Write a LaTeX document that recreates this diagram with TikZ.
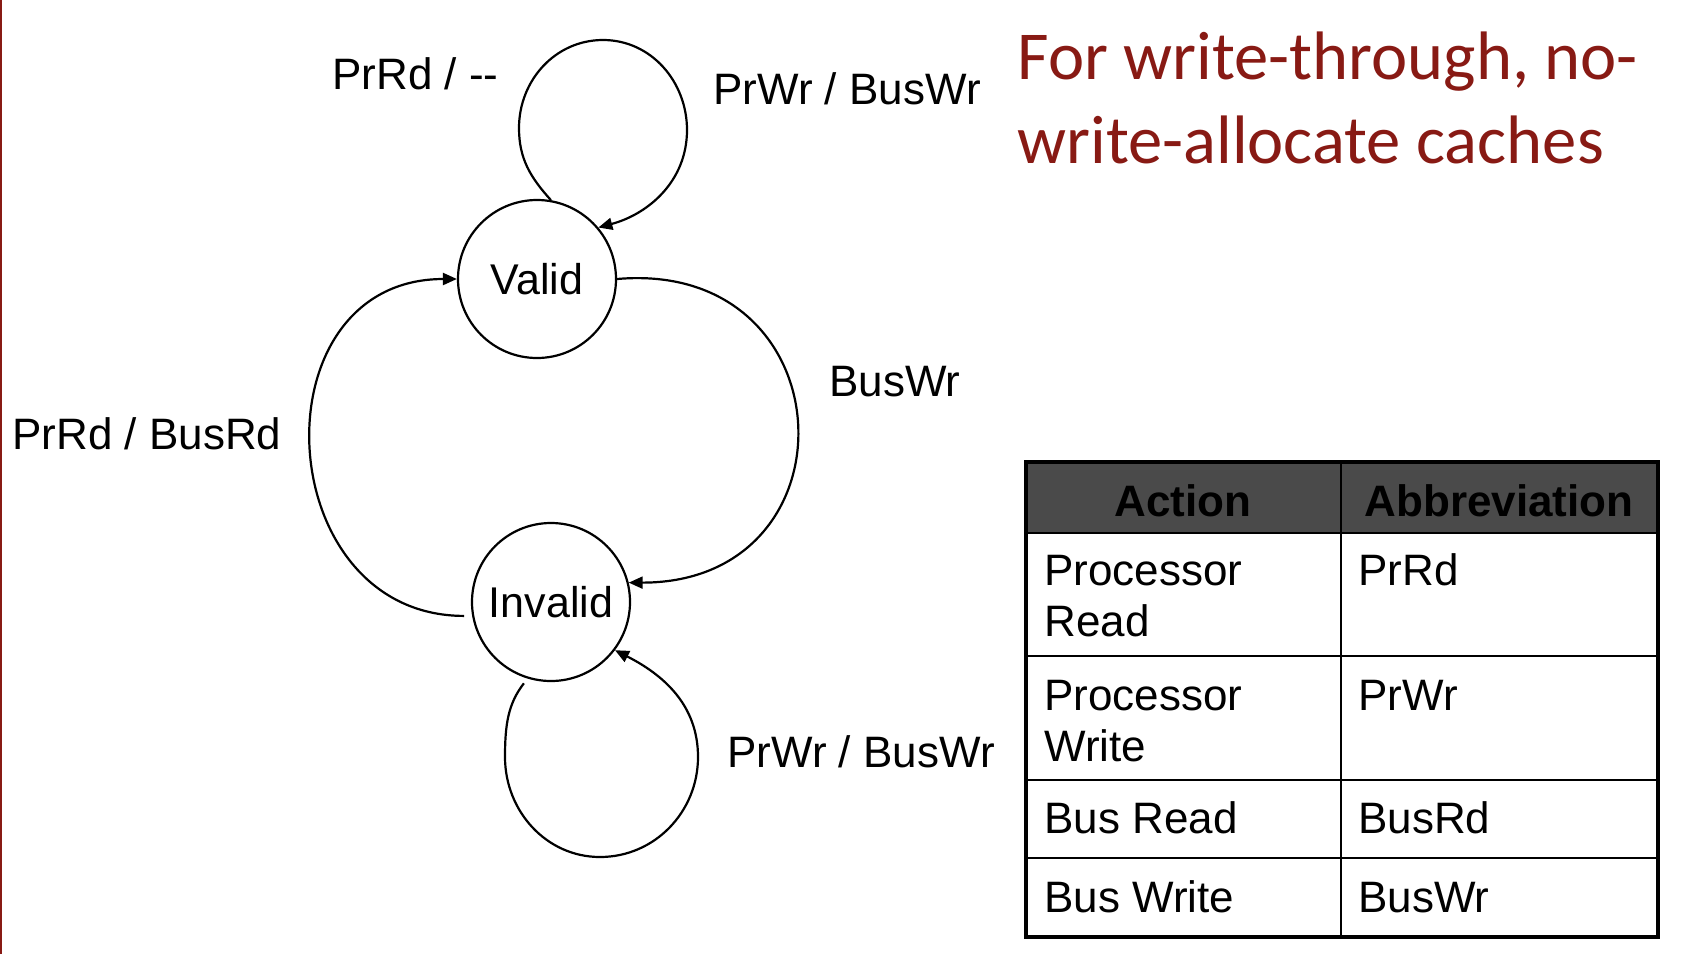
\documentclass[tikz,border=0pt]{standalone}
\usepackage{fontspec}
\setmainfont{Liberation Sans}
\newfontfamily\titlefont{Carlito}
\usetikzlibrary{positioning,arrows.meta}
\definecolor{titlered}{RGB}{136,26,20}
\definecolor{headgray}{RGB}{74,74,74}

\begin{document}
\begin{tikzpicture}[x=0.5pt, y=0.5pt, >={Triangle[length=7pt,width=6pt]}]
    \tikzset{state/.style={draw, shape=circle, line width=1.1pt, minimum size=79pt, inner sep=0pt, font=\fontsize{21.5}{26}\selectfont},
             lbl/.style={anchor=base west, inner sep=0pt, font=\fontsize{22}{26}\selectfont},
             cell/.style={anchor=base west, inner sep=0pt, font=\fontsize{22}{26}\selectfont},
             head/.style={anchor=base, inner sep=0pt, font=\bfseries\fontsize{22}{26}\selectfont},
             titleline/.style={anchor=base west, inner sep=0pt, text=titlered, font=\titlefont\fontsize{34.3}{42}\selectfont}}
    \useasboundingbox (0,0) rectangle (1692,-954);
    \fill[titlered] (0,0) rectangle (2,-954);

    % states
    \node[state] (valid) at (537,-279) {Valid};
    \node[state] (invalid) at (551,-602) {Invalid};

    % transitions
    \draw[->, line width=1.1pt] (valid.80) to[out=132, in=-90] (519,-128) to[out=90, in=180] (603,-40)
        to[out=0, in=90] (687,-130) to[out=-90, in=15] (valid.40);
    \draw[->, line width=1.1pt] (valid.0) to[out=5, in=0, looseness=1.95] (invalid.14);
    \draw[->, line width=1.1pt, shorten <=4pt] (invalid.190) to[out=180, in=180, looseness=1.54] (valid.180);
    \draw[->, line width=1.1pt, shorten <=3pt] (invalid.253) to[out=232, in=90] (505,-757) to[out=-90, in=180] (600,-857)
        to[out=0, in=-90] (698,-757) to[out=90, in=-27] (invalid.-37);

    \node[lbl] (prrdnone) at (332,-89) {PrRd / -{}-};
    \node[lbl] (prwrtop) at (713,-104) {PrWr / BusWr};
    \node[lbl] (buswr) at (829,-396) {BusWr};
    \node[lbl] (prrdbusrd) at (12,-449) {PrRd / BusRd};
    \node[lbl] (prwrbottom) at (727,-767) {PrWr / BusWr};

    % title
    \node[titleline] (title1) at (1017,-79) {For write-through, no-};
    \node[titleline] (title2) at (1017,-163) {write-allocate caches};

    % table
    \fill[headgray] (1026,-462) rectangle (1658,-533);
    \draw[line width=1.2pt] (1341,-462) -- (1341,-937);
    \foreach \ry in {533,656,780,858}
        \draw[line width=1.2pt] (1026,-\ry) -- (1658,-\ry);
    \draw[line width=2.3pt] (1026,-462) rectangle (1658,-937);
    \node[head] (hdaction) at (1183,-516) {Action};
    \node[head] (hdabbr) at (1499,-516) {Abbreviation};
    \foreach \cx/\cy/\ctext [count=\k] in {1044/585/Processor, 1044/636/Read, 1358/585/PrRd,
            1044/710/Processor, 1044/761/Write, 1358/710/PrWr,
            1044/833/Bus Read, 1358/833/BusRd, 1044/912/Bus Write, 1358/912/BusWr}
        \node[cell] (cell\k) at (\cx,-\cy) {\ctext};
\end{tikzpicture}
\end{document}
